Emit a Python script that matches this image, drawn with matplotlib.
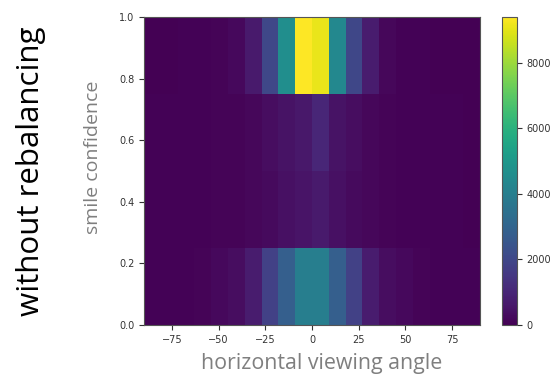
import numpy as np
import matplotlib.pyplot as plt

# bin edges
angle_edges = np.arange(-90, 91, 9)          # 20 bins of 9 degrees
smile_edges = [0.0, 0.25, 0.5, 0.75, 1.0]

# counts per smile-confidence band (left to right, -90 .. 90)
row_0_25 = [50, 60, 70, 100, 200, 300, 700, 1800, 2800, 4000,
            4000, 2800, 1800, 700, 300, 200, 90, 60, 50, 40]
row_25_50 = [40, 40, 50, 60, 80, 100, 150, 250, 400, 500,
             650, 400, 250, 150, 100, 70, 50, 40, 40, 30]
row_50_75 = [40, 40, 50, 60, 80, 100, 150, 300, 450, 600,
             1000, 450, 300, 150, 100, 70, 50, 40, 40, 30]
row_75_100 = [30, 30, 40, 50, 80, 200, 650, 2000, 4600, 9400,
              9100, 4400, 2000, 700, 150, 60, 40, 30, 30, 30]

counts = np.array([row_0_25, row_25_50, row_50_75, row_75_100])

fig = plt.figure(figsize=(5.55, 3.84), dpi=100)
ax = fig.add_axes([0.2595, 0.1536, 0.6055, 0.8021])
cax = fig.add_axes([0.9045, 0.1536, 0.027, 0.8021])

mesh = ax.pcolormesh(angle_edges, smile_edges, counts, cmap="viridis",
                     vmin=0, vmax=9400)
ax.set_xlim(-90, 90)
ax.set_ylim(0, 1)
ax.set_xticks([-75, -50, -25, 0, 25, 50, 75])
ax.set_yticks([0.0, 0.2, 0.4, 0.6, 0.8, 1.0])
ax.tick_params(labelsize=7, colors="#333333", length=3.5, width=0.8)
for s in ax.spines.values():
    s.set_color("#555555")
    s.set_linewidth(0.8)

cb = fig.colorbar(mesh, cax=cax)
cb.set_ticks([0, 2000, 4000, 6000, 8000])
cb.ax.tick_params(labelsize=7, colors="#333333", length=3.5, width=0.8)
cb.outline.set_edgecolor("#555555")
cb.outline.set_linewidth(0.8)

# labels placed like the original figure
fig.text(0.055, 0.553, "without rebalancing", rotation=90, ha="center",
         va="center", fontsize=22.5, family="Open Sans", color="black")
fig.text(0.168, 0.591, "smile confidence", rotation=90, ha="center",
         va="center", fontsize=14, family="Open Sans", color="#7f7f7f")
fig.text(0.58, 0.054, "horizontal viewing angle", ha="center", va="center",
         fontsize=15.4, family="Open Sans", color="#7f7f7f")

fig.savefig("out.png", dpi=100)
